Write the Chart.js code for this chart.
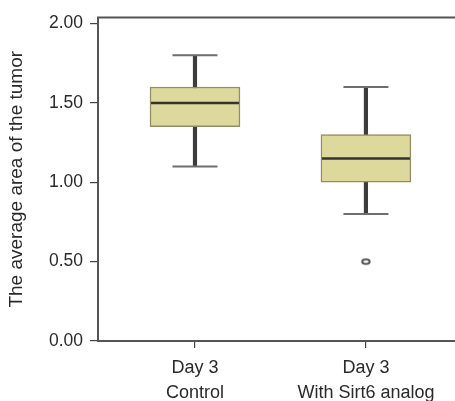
<!DOCTYPE html>
<html>
<head>
<meta charset="utf-8">
<script src="https://cdn.jsdelivr.net/npm/chart.js@4"></script>
<style>
html,body{margin:0;padding:0;background:#fff;}
#wrap{width:455px;height:401px;position:relative;}
</style>
</head>
<body>
<div id="wrap"><canvas id="c" width="455" height="401"></canvas></div>
<script>
// ---- data ----
const categories = [['Day 3', 'Control'], ['Day 3', 'With Sirt6 analog']];
const whiskerLow  = [1.10, 0.80];
const q1          = [1.35, 1.00];
const median      = [1.50, 1.15];
const q3          = [1.60, 1.30];
const whiskerHigh = [1.80, 1.60];
const outliers    = [[], [0.50]];
const yTicks      = [0, 0.5, 1.0, 1.5, 2.0];
const yTitle      = 'The average area of the tumor';

const FONT = "'Liberation Sans', Arial, Helvetica, sans-serif";

const boxData = categories.map((c, i) => ({x: i + 1, y: [q1[i], q3[i]]}));
const whiskerData = categories.map((c, i) => ({x: i + 1, y: [whiskerLow[i], whiskerHigh[i]]}));
const outlierData = [];
outliers.forEach((arr, i) => arr.forEach(v => outlierData.push({x: i + 1, y: v})));

// small elliptical marker used as the outlier point style
const ring = document.createElement('canvas');
ring.width = 12; ring.height = 9;
(function () {
  const g = ring.getContext('2d');
  g.strokeStyle = '#555';
  g.lineWidth = 2;
  g.beginPath();
  g.ellipse(6, 4.5, 3.7, 2.3, 0, 0, Math.PI * 2);
  g.stroke();
})();

const extras = {
  id: 'boxExtras',
  afterDatasetsDraw(chart) {
    const {ctx, chartArea, scales: {x, y}} = chart;
    ctx.save();
    ctx.lineCap = 'butt';
    // top frame line
    ctx.strokeStyle = '#555';
    ctx.lineWidth = 2;
    ctx.beginPath();
    ctx.moveTo(chartArea.left - 1, chartArea.top);
    ctx.lineTo(chartArea.right, chartArea.top);
    ctx.stroke();
    categories.forEach((c, i) => {
      const cx = x.getPixelForValue(i + 1);
      ctx.strokeStyle = '#6e6e6e';
      ctx.lineWidth = 2;
      [whiskerLow[i], whiskerHigh[i]].forEach(v => {
        const py = y.getPixelForValue(v);
        ctx.beginPath();
        ctx.moveTo(cx - 22.5, py);
        ctx.lineTo(cx + 22.5, py);
        ctx.stroke();
      });
      const pm = y.getPixelForValue(median[i]);
      ctx.strokeStyle = '#333';
      ctx.lineWidth = 2.5;
      ctx.beginPath();
      ctx.moveTo(cx - 44, pm);
      ctx.lineTo(cx + 44, pm);
      ctx.stroke();
    });
    ctx.restore();
  }
};

new Chart(document.getElementById('c'), {
  type: 'bar',
  data: {
    datasets: [
      {
        type: 'scatter',
        data: outlierData,
        pointStyle: ring,
        radius: 5,
        order: 0
      },
      {
        data: boxData,
        backgroundColor: '#ddd89c',
        borderColor: '#938e62',
        borderWidth: 1.5,
        borderSkipped: false,
        barThickness: 90,
        grouped: false,
        order: 1
      },
      {
        data: whiskerData,
        backgroundColor: '#3c3c3c',
        borderWidth: 0,
        barThickness: 3.5,
        grouped: false,
        order: 2
      }
    ]
  },
  options: {
    responsive: false,
    animation: false,
    layout: {autoPadding: false, padding: {top: 17, right: 0, left: 0, bottom: 0}},
    plugins: {legend: {display: false}, tooltip: {enabled: false}},
    scales: {
      x: {
        type: 'linear',
        min: 0.4327,
        max: 2.521,
        offset: false,
        afterBuildTicks(scale) { scale.ticks = categories.map((c, i) => ({value: i + 1})); },
        afterFit(scale) { scale.height = 60; scale.paddingLeft = 0; scale.paddingRight = 0; },
        grid: {display: true, drawOnChartArea: false, drawTicks: true, tickLength: 7, tickColor: '#444', lineWidth: 1.2, offset: false},
        border: {display: true, color: '#555', width: 2},
        ticks: {
          autoSkip: false,
          maxRotation: 0,
          padding: 8,
          color: '#2a2a2a',
          font: {family: FONT, size: 18, lineHeight: 1.39},
          callback: (v) => categories[Math.round(v) - 1]
        }
      },
      y: {
        min: 0,
        max: 2.038,
        afterBuildTicks(scale) { scale.ticks = yTicks.map(v => ({value: v})); },
        afterFit(scale) { scale.width = 98; },
        grid: {display: true, drawOnChartArea: false, drawTicks: true, tickLength: 8, tickColor: '#444', lineWidth: 1.2},
        border: {display: true, color: '#555', width: 2},
        ticks: {
          padding: 7,
          color: '#2a2a2a',
          font: {family: FONT, size: 17.5},
          callback: (v) => Number(v).toFixed(2)
        },
        title: {
          display: true,
          text: yTitle,
          color: '#2a2a2a',
          font: {family: FONT, size: 19},
          padding: {top: 5, bottom: 0}
        }
      }
    }
  },
  plugins: [extras]
});
</script>
</body>
</html>
